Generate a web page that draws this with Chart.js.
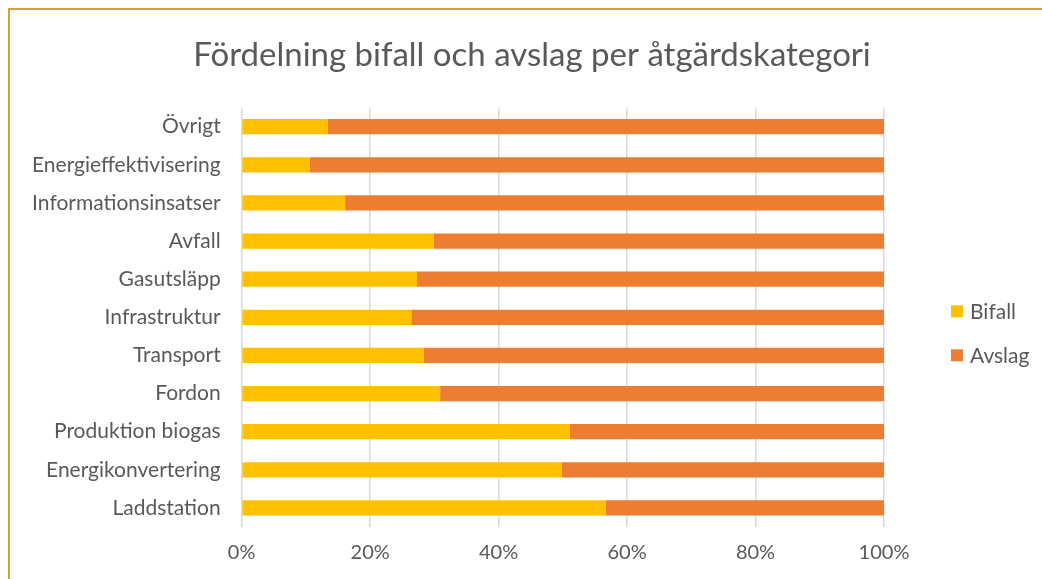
<!DOCTYPE html>
<html>
<head>
<meta charset="utf-8">
<script src="https://cdn.jsdelivr.net/npm/chart.js@4"></script>
<style>
  html, body { margin: 0; padding: 0; background: #fff; }
  #wrap { position: relative; width: 1042px; height: 579px; overflow: hidden; }
  #frame { position: absolute; left: 8px; top: 8px; width: 1100px; height: 700px;
           border-left: 2px solid #d6a232; border-top: 2px solid #d6a232; }
  #cv { position: absolute; left: 0; top: 0; }
</style>
</head>
<body>
<div id="wrap">
  <div id="frame"></div>
  <canvas id="cv" width="1042" height="579"></canvas>
</div>
<script>
const categories = ['Övrigt', 'Energieffektivisering', 'Informationsinsatser', 'Avfall', 'Gasutsläpp',
  'Infrastruktur', 'Transport', 'Fordon', 'Produktion biogas', 'Energikonvertering', 'Laddstation'];
const bifall = [13.4, 10.6, 16.1, 29.9, 27.3, 26.4, 28.3, 30.9, 51.1, 49.8, 56.7];
const avslag = [86.6, 89.4, 83.9, 70.1, 72.7, 73.6, 71.7, 69.1, 48.9, 50.2, 43.3];
const xTicks = ['0%', '20%', '40%', '60%', '80%', '100%'];

const grey = '#595959';
const font = 'Lato, "Open Sans", sans-serif';

// legend drawn to the right of the plot, like the Excel original
const sideLegend = {
  id: 'sideLegend',
  afterDraw(chart) {
    const c = chart.ctx;
    const area = chart.chartArea;
    const mid = (area.top + area.bottom) / 2;
    c.save();
    c.font = '21px ' + font;
    c.textBaseline = 'middle';
    chart.data.datasets.forEach((ds, i) => {
      const y = mid - 6 + i * 44;
      c.fillStyle = ds.backgroundColor;
      c.fillRect(area.right + 67, y - 6, 12, 12);
      c.fillStyle = grey;
      c.fillText(ds.label, area.right + 86, y + 1);
    });
    c.restore();
  }
};

const ctx = document.getElementById('cv').getContext('2d');
new Chart(ctx, {
  type: 'bar',
  data: {
    labels: categories,
    datasets: [
      { label: 'Bifall', data: bifall, backgroundColor: '#ffc000', barPercentage: 0.8, categoryPercentage: 0.5 },
      { label: 'Avslag', data: avslag, backgroundColor: '#ed7d31', barPercentage: 0.8, categoryPercentage: 0.5 }
    ]
  },
  plugins: [sideLegend],
  options: {
    indexAxis: 'y',
    responsive: false,
    animation: false,
    layout: { padding: { left: 19, right: -3, top: 36, bottom: 0 } },
    plugins: {
      title: {
        display: true,
        text: 'Fördelning bifall och avslag per åtgärdskategori',
        color: grey,
        font: { family: font, size: 33, weight: 'normal' },
        padding: { top: 0, bottom: 32 }
      },
      legend: { display: false },
      tooltip: { enabled: false }
    },
    scales: {
      x: {
        stacked: true,
        min: 0,
        max: 100,
        ticks: {
          stepSize: 20,
          color: grey,
          font: { family: font, size: 20 },
          padding: 14,
          callback: (v, i) => xTicks[i]
        },
        grid: { color: '#d9d9d9', lineWidth: 1.5, drawTicks: false },
        border: { display: false }
      },
      y: {
        stacked: true,
        ticks: { color: grey, font: { family: font, size: 21 }, padding: 13 },
        grid: { display: false },
        border: { display: false }
      },
      side: {
        type: 'category',
        position: 'right',
        ticks: { display: false },
        grid: { display: false },
        border: { display: false },
        afterFit: s => { s.width = 161; }
      }
    }
  }
});
</script>
</body>
</html>
